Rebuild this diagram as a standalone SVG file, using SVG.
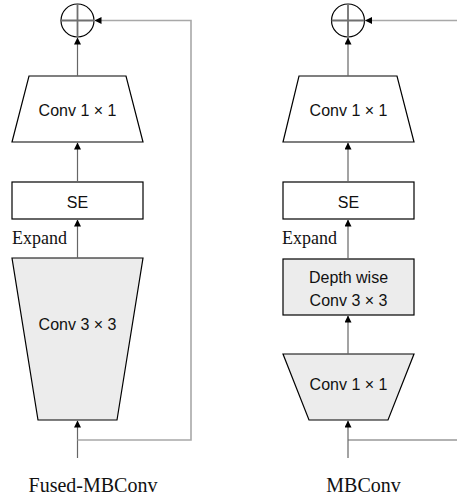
<svg xmlns="http://www.w3.org/2000/svg" width="457" height="498" viewBox="0 0 457 498">
  <style>
    .blk { stroke: #000; stroke-width: 1.2; }
    .white { fill: #fff; }
    .grey { fill: #ececec; }
    .lbl { font-family: "Liberation Sans", Arial, sans-serif; font-size: 16px; fill: #111; text-anchor: middle; }
    .serif { font-family: "Liberation Serif", "Times New Roman", serif; fill: #111; }
    .main { stroke: #666; stroke-width: 1.2; fill: none; }
    .skip { stroke: #a8a8a8; stroke-width: 1.6; fill: none; }
    .cross { stroke: #707070; stroke-width: 1.8; }
  </style>
  <defs>
    <marker id="arrow" viewBox="0 0 8 8" refX="8" refY="4" markerWidth="7" markerHeight="7" markerUnits="userSpaceOnUse" orient="auto">
      <path d="M0,0 L8,4 L0,8 Z" fill="#000"/>
    </marker>
  </defs>

  <!-- Fused-MBConv block -->
  <g id="fused-add">
    <circle cx="77.5" cy="20.5" r="16.5" class="blk white"/>
    <line x1="61" y1="20.5" x2="94" y2="20.5" class="cross"/>
    <line x1="77.5" y1="4" x2="77.5" y2="37" class="cross"/>
  </g>
  <g id="fused-conv1x1">
    <polygon points="29,76 126,76 143,142 12,142" class="blk white"/>
    <text x="77.5" y="116" class="lbl">Conv 1 × 1</text>
  </g>
  <g id="fused-se">
    <rect x="12" y="182" width="131" height="37" class="blk white"/>
    <text x="77.5" y="208" class="lbl">SE</text>
  </g>
  <g id="fused-conv3x3">
    <polygon points="12,258 143,258 117,420 38,420" class="blk grey"/>
    <text x="77.5" y="330" class="lbl">Conv 3 × 3</text>
  </g>
  <text id="fused-expand" x="12" y="244" class="serif" font-size="18">Expand</text>
  <text id="fused-title" x="93" y="492" class="serif" font-size="20" text-anchor="middle">Fused-MBConv</text>

  <!-- MBConv block -->
  <g id="mb-add">
    <circle cx="348" cy="20.5" r="16.5" class="blk white"/>
    <line x1="331.5" y1="20.5" x2="364.5" y2="20.5" class="cross"/>
    <line x1="348" y1="4" x2="348" y2="37" class="cross"/>
  </g>
  <g id="mb-conv1x1-top">
    <polygon points="299,76 397,76 414,142 283,142" class="blk white"/>
    <text x="348.5" y="116" class="lbl">Conv 1 × 1</text>
  </g>
  <g id="mb-se">
    <rect x="283" y="182" width="131" height="37" class="blk white"/>
    <text x="348.5" y="208" class="lbl">SE</text>
  </g>
  <g id="mb-depthwise">
    <rect x="283" y="259" width="131" height="56" class="blk grey"/>
    <text x="348.5" y="283" class="lbl">Depth wise</text>
    <text x="348.5" y="306" class="lbl">Conv 3 × 3</text>
  </g>
  <g id="mb-conv1x1-bottom">
    <polygon points="283,354 414,354 388,420 309,420" class="blk grey"/>
    <text x="348.5" y="390" class="lbl">Conv 1 × 1</text>
  </g>
  <text id="mb-expand" x="282" y="244" class="serif" font-size="18">Expand</text>
  <text id="mb-title" x="363.5" y="492" class="serif" font-size="20" text-anchor="middle">MBConv</text>

  <!-- connectors -->
  <g id="connectors">
    <!-- Fused-MBConv main path -->
    <line x1="77.5" y1="458" x2="77.5" y2="420.5" class="main" marker-end="url(#arrow)"/>
    <line x1="77.5" y1="258" x2="77.5" y2="219.5" class="main" marker-end="url(#arrow)"/>
    <line x1="77.5" y1="182" x2="77.5" y2="142.5" class="main" marker-end="url(#arrow)"/>
    <line x1="77.5" y1="76" x2="77.5" y2="37.5" class="main" marker-end="url(#arrow)"/>
    <!-- Fused-MBConv shortcut -->
    <polyline points="77.5,440 191,440 191,20.5 94.5,20.5" class="skip" marker-end="url(#arrow)"/>

    <!-- MBConv main path -->
    <line x1="348" y1="458" x2="348" y2="420.5" class="main" marker-end="url(#arrow)"/>
    <line x1="348" y1="354" x2="348" y2="315.5" class="main" marker-end="url(#arrow)"/>
    <line x1="348" y1="259" x2="348" y2="219.5" class="main" marker-end="url(#arrow)"/>
    <line x1="348" y1="182" x2="348" y2="142.5" class="main" marker-end="url(#arrow)"/>
    <line x1="348" y1="76" x2="348" y2="37.5" class="main" marker-end="url(#arrow)"/>
    <!-- MBConv shortcut -->
    <line x1="348" y1="440" x2="457" y2="440" class="main"/>
    <line x1="457" y1="20.5" x2="365" y2="20.5" class="skip" marker-end="url(#arrow)"/>
  </g>
</svg>
